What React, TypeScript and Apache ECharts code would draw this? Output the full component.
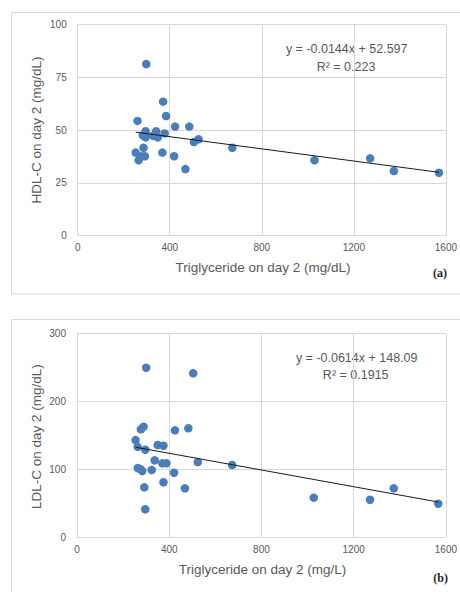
import React, { useEffect, useRef } from "react";
import * as echarts from "echarts";

// Panel (a): Triglyceride (mg/dL) vs HDL-C (mg/dL)
const hdlTg = [298, 371, 384, 260, 423, 485, 295, 341, 378, 283, 295, 328, 348, 505, 525, 672, 286, 252, 368, 265, 276, 292, 419, 468, 1029, 1271, 1374, 1570];
const hdlVal = [81.2, 63.4, 56.6, 54.3, 51.6, 51.6, 49.4, 49.4, 48.4, 47.5, 46.5, 47.3, 46.5, 44.3, 45.6, 41.6, 41.6, 39.3, 39.3, 35.7, 37.6, 37.6, 37.6, 31.5, 35.7, 36.6, 30.6, 29.8];

// Panel (b): Triglyceride (mg/L) vs LDL-C (mg/dL)
const ldlTg = [300, 504, 254, 263, 277, 289, 296, 425, 483, 350, 375, 337, 324, 370, 388, 524, 673, 264, 276, 283, 421, 292, 375, 468, 296, 1027, 1271, 1374, 1567];
const ldlVal = [249.4, 241.2, 143, 133, 158.8, 162.7, 128.8, 157.3, 160.3, 135.7, 134.7, 113.2, 99, 108.8, 108.8, 110.7, 106.3, 101.9, 100, 97.5, 95, 73.5, 80.9, 72, 41.2, 58.3, 55.3, 72, 49.4];

// Trend line coefficients (from the chart's equations)
const hdlFit = { slope: -0.0144, intercept: 52.597, r2: "0.223" };
const ldlFit = { slope: -0.0614, intercept: 148.09, r2: "0.1915" };

const xTicks = [0, 400, 800, 1200, 1600];
const hdlTicks = [0, 25, 50, 75, 100];
const ldlTicks = [0, 100, 200, 300];

const GRAY = "#595959";
const GRID = "#d9d9d9";
const DOT = "#4a7ebb";

function fitLine(xs: number[], fit: { slope: number; intercept: number }) {
  const lo = Math.min(...xs);
  const hi = Math.max(...xs);
  return [
    [lo, fit.slope * lo + fit.intercept],
    [hi, fit.slope * hi + fit.intercept],
  ];
}

function fmtEq(fit: { slope: number; intercept: number }) {
  return `y = ${fit.slope}x + ${fit.intercept}`;
}

export default function App() {
  const ref = useRef<HTMLDivElement>(null);
  useEffect(() => {
    if (!ref.current) return;
    const chart = echarts.init(ref.current, null, { renderer: "svg" });
    const xAxisBase = (gridIndex: number) => ({
      gridIndex,
      type: "value" as const,
      min: xTicks[0],
      max: xTicks[xTicks.length - 1],
      interval: xTicks[1] - xTicks[0],
      axisLine: { show: false },
      axisTick: { show: false },
      splitLine: { show: true, lineStyle: { color: GRID, width: 1 } },
      axisLabel: {
        color: GRAY,
        fontSize: 10,
        fontFamily: "Liberation Sans",
        margin: 7,
        formatter: (v: number) => String(v),
      },
    });
    const yAxisBase = (gridIndex: number, ticks: number[]) => ({
      gridIndex,
      type: "value" as const,
      min: ticks[0],
      max: ticks[ticks.length - 1],
      interval: ticks[1] - ticks[0],
      axisLine: { show: false },
      axisTick: { show: false },
      splitLine: { show: true, lineStyle: { color: GRID, width: 1 } },
      axisLabel: {
        color: GRAY,
        fontSize: 10,
        fontFamily: "Liberation Sans",
        margin: 11,
        formatter: (v: number) => String(v),
      },
    });
    const txt = (x: number, y: number, text: string, extra: any = {}) => ({
      type: "text",
      x,
      y,
      style: {
        text,
        fill: GRAY,
        fontSize: 12.5,
        fontFamily: "Liberation Sans",
        textAlign: "center",
        textVerticalAlign: "middle",
        ...extra,
      },
    });
    const vtxt = (x: number, y: number, text: string) => ({
      type: "text",
      x,
      y,
      rotation: Math.PI / 2,
      style: {
        text,
        fill: GRAY,
        fontSize: 13.5,
        fontFamily: "Liberation Sans",
        textAlign: "center",
        textVerticalAlign: "middle",
      },
    });
    chart.setOption({
      animation: false,
      backgroundColor: "#ffffff",
      grid: [
        { left: 77.7, right: 11.7, top: 24.3, height: 211.4 },
        { left: 77, right: 11.7, top: 333.3, height: 204 },
      ],
      xAxis: [xAxisBase(0), xAxisBase(1)],
      yAxis: [yAxisBase(0, hdlTicks), yAxisBase(1, ldlTicks)],
      series: [
        {
          type: "scatter",
          xAxisIndex: 0,
          yAxisIndex: 0,
          symbolSize: 8.5,
          itemStyle: { color: DOT, opacity: 1 },
          data: hdlTg.map((x, i) => [x, hdlVal[i]]),
        },
        {
          type: "line",
          xAxisIndex: 0,
          yAxisIndex: 0,
          symbol: "none",
          lineStyle: { color: "#1a1a1a", width: 1 },
          data: fitLine(hdlTg, hdlFit),
        },
        {
          type: "scatter",
          xAxisIndex: 1,
          yAxisIndex: 1,
          symbolSize: 8.5,
          itemStyle: { color: DOT, opacity: 1 },
          data: ldlTg.map((x, i) => [x, ldlVal[i]]),
        },
        {
          type: "line",
          xAxisIndex: 1,
          yAxisIndex: 1,
          symbol: "none",
          lineStyle: { color: "#1a1a1a", width: 1 },
          data: fitLine(ldlTg, ldlFit),
        },
      ],
      graphic: [
        {
          type: "rect",
          shape: { x: 11.5, y: 12.5, width: 460, height: 281.5 },
          style: { fill: "none", stroke: GRID, lineWidth: 1 },
          z: -10,
        },
        {
          type: "rect",
          shape: { x: 11.5, y: 319.5, width: 460, height: 300 },
          style: { fill: "none", stroke: GRID, lineWidth: 1 },
          z: -10,
        },
        txt(346.7, 49.3, fmtEq(hdlFit)),
        txt(346, 66.7, `R² = ${hdlFit.r2}`),
        txt(356.7, 357.7, fmtEq(ldlFit)),
        txt(355.7, 375, `R² = ${ldlFit.r2}`),
        txt(263, 267.7, "Triglyceride on day 2 (mg/dL)", { fontSize: 13.5 }),
        txt(262.5, 569.3, "Triglyceride on day 2 (mg/L)", { fontSize: 13.5 }),
        vtxt(36.7, 130, "HDL-C on day 2 (mg/dL)"),
        vtxt(36.7, 436.7, "LDL-C on day 2 (mg/dL)"),
        txt(440, 272.7, "(a)", { fill: "#1f1f1f", fontSize: 12, fontWeight: "bold", fontFamily: "Liberation Serif" }),
        txt(440.7, 578.3, "(b)", { fill: "#1f1f1f", fontSize: 12, fontWeight: "bold", fontFamily: "Liberation Serif" }),
      ],
    });
    return () => chart.dispose();
  }, []);
  return (
    <div
      ref={ref}
      style={{ position: "fixed", left: 0, top: 0, width: 460, height: 592, background: "#fff" }}
    />
  );
}
